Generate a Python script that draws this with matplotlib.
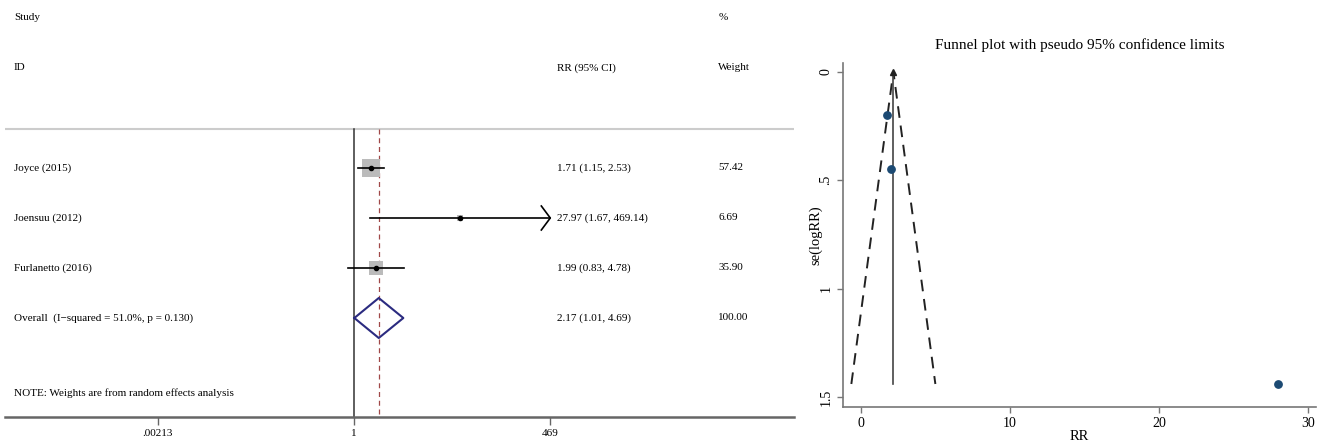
import matplotlib
matplotlib.use("Agg")
import matplotlib.pyplot as plt
import numpy as np

plt.rcParams['font.family'] = ['Liberation Serif', 'DejaVu Serif']

# Forest plot data
studies = ["Joyce (2015)", "Joensuu (2012)", "Furlanetto (2016)"]
rr = [1.71, 27.97, 1.99]
ci_lo = [1.15, 1.67, 0.83]
ci_hi = [2.53, 469.14, 4.78]
weights = [57.42, 6.69, 35.90]
overall = [2.17, 1.01, 4.69]
overall_weight = 100.00
overall_label = "Overall  (I\u2212squared = 51.0%, p = 0.130)"
forest_ticks = [0.00213, 1, 469]
forest_ticklabels = [".00213", "1", "469"]

# Funnel plot data
se_log = [0.201, 1.438, 0.446]
funnel_se_max = 1.438
funnel_limits = [-0.65, 4.99]

fig = plt.figure(figsize=(13.21, 4.45), dpi=100)

# ======================================================================
# FOREST PLOT
ax = fig.add_axes([5 / 1321, 28 / 445, 789 / 1321, 417 / 445])
ax.set_xscale("log")
ax.set_xlim(np.exp(-10.94), np.exp(13.79))
ax.set_ylim(5.98, -2.36)
for s in ["top", "right", "left"]:
    ax.spines[s].set_visible(False)
ax.spines["bottom"].set_color("#666666")
ax.spines["bottom"].set_linewidth(1.8)
ax.set_yticks([])
ax.set_xticks(forest_ticks)
ax.set_xticklabels(forest_ticklabels, fontsize=8)
ax.minorticks_off()
ax.tick_params(axis="x", length=6, width=1, color="#666666", pad=3)

rows = np.arange(1, len(studies) + 1)
line_top = 0.22
ax.axhline(line_top, color="#cccccc", lw=1.5)
ax.plot([1, 1], [line_top, 5.98], color="#333333", lw=1.1)
ax.plot([overall[0], overall[0]], [line_top, 5.98], color="#a04848", lw=0.9,
        linestyle=(0, (4, 3)))

xmax = forest_ticks[-1]
for r, est, lo, hi, w in zip(rows, rr, ci_lo, ci_hi, weights):
    ax.plot(est, r, marker="s", markersize=1.71 * np.sqrt(w), color="#bbbbbb",
            markeredgewidth=0, zorder=2)
    ax.plot([lo, min(hi, xmax)], [r, r], color="black", lw=1.2, zorder=3)
    ax.plot(est, r, marker="o", markersize=3, color="black", zorder=4)
    if hi > xmax:
        back = xmax / np.exp(0.28)
        ax.plot([back, xmax, back], [r - 0.24, r, r + 0.24], color="black", lw=1.2)

orow = len(studies) + 1
ax.plot([overall[1], overall[0], overall[2], overall[0], overall[1]],
        [orow, orow - 0.4, orow, orow + 0.4, orow], color="#2b2b80", lw=1.5)

tr = ax.get_yaxis_transform()
x_name, x_ci, x_w = 0.0114, 0.70, 0.904
fs = 8
ax.text(x_name, -2, "Study", transform=tr, fontsize=fs, va="center")
ax.text(x_w, -2, "%", transform=tr, fontsize=fs, va="center")
ax.text(x_name, -1, "ID", transform=tr, fontsize=fs, va="center")
ax.text(x_ci, -1, "RR (95% CI)", transform=tr, fontsize=fs, va="center")
ax.text(x_w, -1, "Weight", transform=tr, fontsize=fs, va="center")
for r, name, est, lo, hi, w in zip(rows, studies, rr, ci_lo, ci_hi, weights):
    ax.text(x_name, r, name, transform=tr, fontsize=fs, va="center")
    ax.text(x_ci, r, f"{est:.2f} ({lo:.2f}, {hi:.2f})", transform=tr, fontsize=fs, va="center")
    ax.text(x_w, r, f"{w:.2f}", transform=tr, fontsize=fs, va="center")
ax.text(x_name, orow, overall_label, transform=tr, fontsize=fs, va="center")
ax.text(x_ci, orow, f"{overall[0]:.2f} ({overall[1]:.2f}, {overall[2]:.2f})",
        transform=tr, fontsize=fs, va="center")
ax.text(x_w, orow, f"{overall_weight:.2f}", transform=tr, fontsize=fs, va="center")
ax.text(x_name, 5.5, "NOTE: Weights are from random effects analysis", transform=tr,
        fontsize=fs, va="center")

# ======================================================================
# FUNNEL PLOT
ax2 = fig.add_axes([843 / 1321, 38 / 445, 473 / 1321, 344 / 445])
ax2.set_xlim(-1.21, 30.54)
ax2.set_ylim(1.544, -0.04)
for s in ["top", "right"]:
    ax2.spines[s].set_visible(False)
for s in ["left", "bottom"]:
    ax2.spines[s].set_color("#777777")
    ax2.spines[s].set_linewidth(1.2)

ax2.plot([funnel_limits[0], overall[0], funnel_limits[1]],
         [funnel_se_max, 0, funnel_se_max], color="#222222", lw=1.4,
         linestyle=(0, (6, 4)))
ax2.plot([overall[0], overall[0]], [funnel_se_max, 0], color="#444444", lw=1.2)
ax2.plot(overall[0], 0, marker="^", markersize=4, color="#222222")
ax2.scatter(rr, se_log, s=28, color="#1c4a73", zorder=3)

ax2.set_xticks([0, 10, 20, 30])
ax2.set_yticks([0, 0.5, 1, 1.5])
ax2.set_yticklabels(["0", ".5", "1", "1.5"], rotation=90, va="center")
ax2.tick_params(labelsize=10, length=4, color="#777777", width=1)
ax2.set_xlabel("RR", fontsize=10.5, labelpad=0)
ax2.set_ylabel("se(logRR)", fontsize=10.5, labelpad=-2)
ax2.set_title("Funnel plot with pseudo 95% confidence limits", fontsize=11, pad=10)

fig.savefig("out.png", dpi=100)
